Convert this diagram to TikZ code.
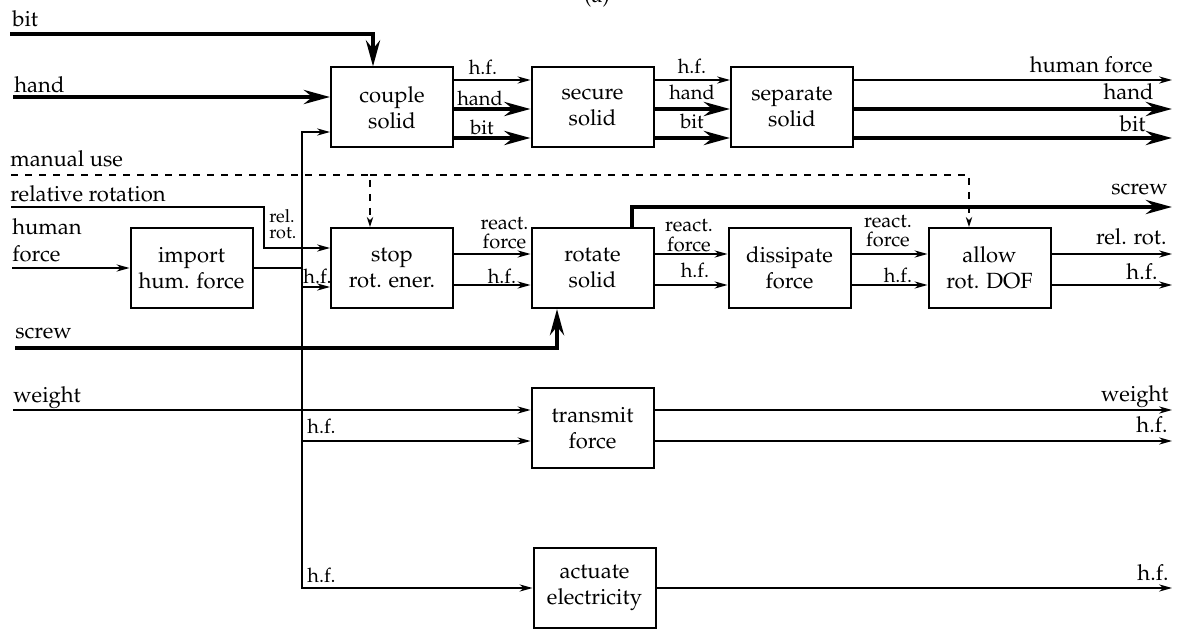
\documentclass[tikz,border=0pt]{standalone}
\usepackage[T1]{fontenc}
\usepackage{mathpazo}
\usetikzlibrary{arrows.meta,calc}
\begin{document}
\begin{tikzpicture}[x=0.5pt,y=-0.5pt,
 font=\fontsize{11}{13}\selectfont,
 box/.style={draw,line width=1pt,minimum width=61pt,minimum height=40pt,align=center,inner sep=0pt},
 flow/.style={line width=0.6pt,-{Stealth[length=6.5pt,width=3.6pt]}},
 plain/.style={line width=0.6pt},
 thickflow/.style={line width=2.2pt,-{Stealth[length=13pt,width=7pt]}},
 dashflow/.style={line width=0.6pt,dash pattern=on 3.5pt off 3.5pt,-{Stealth[length=5pt,width=3.2pt]}},
 lbl/.style={inner sep=0pt},
 slbl/.style={inner sep=0pt,font=\fontsize{10}{9.5}\selectfont,align=center},
 tlbl/.style={inner sep=0pt,font=\fontsize{9}{8.5}\selectfont,align=left}
]
\useasboundingbox (0,0) rectangle (1179,631);
\node[lbl,anchor=base] (title) at (597,3) {(a)};

% boxes
\node[box] (couple) at (392,107.5) {couple\\solid};
\node[box] (secure) at (592.5,107.5) {secure\\solid};
\node[box] (separate) at (792,107.5) {separate\\solid};
\node[box] (import) at (191.5,268) {import\\hum. force};
\node[box] (stop) at (392,268) {stop\\rot. ener.};
\node[box] (rotate) at (592.5,268) {rotate\\solid};
\node[box] (dissipate) at (789.5,268) {dissipate\\force};
\node[box] (allow) at (989.5,268) {allow\\rot. DOF};
\node[box] (transmit) at (592.5,428) {transmit\\force};
\node[box] (actuate) at (594.5,588) {actuate\\electricity};

% free ends and levels
\coordinate (bitin) at (10,34);
\coordinate (handin) at (13,97);
\coordinate (manin) at (11,175);
\coordinate (relin) at (11,207);
\coordinate (relbend) at (264,207);
\coordinate (hfin) at (12,268);
\coordinate (screwin) at (15,348);
\coordinate (weightin) at (13,410);
\coordinate (bus) at (302,268);
\coordinate (rx) at (1172,0);
\coordinate (yT1) at (0,80);
\coordinate (yT2) at (0,109);
\coordinate (yT3) at (0,138);
\coordinate (yC) at (0,132);
\coordinate (yS1) at (0,248);
\coordinate (yS2) at (0,287);
\coordinate (yM1) at (0,254);
\coordinate (yM2) at (0,285);
\coordinate (yscr) at (0,207);
\coordinate (yW) at (0,410);
\coordinate (yH) at (0,441);

% top row
\draw[thickflow] (bitin) -| ([xshift=-9.5pt]couple.north);
\draw[thickflow] (handin) -- (couple.west |- handin);
\draw[flow] (couple.east |- yT1) -- (secure.west |- yT1);
\draw[thickflow] (couple.east |- yT2) -- (secure.west |- yT2);
\draw[thickflow] (couple.east |- yT3) -- (secure.west |- yT3);
\draw[flow] (secure.east |- yT1) -- (separate.west |- yT1);
\draw[thickflow] (secure.east |- yT2) -- (separate.west |- yT2);
\draw[thickflow] (secure.east |- yT3) -- (separate.west |- yT3);
\draw[flow] (separate.east |- yT1) -- (rx |- yT1);
\draw[thickflow] (separate.east |- yT2) -- (rx |- yT2);
\draw[thickflow] (separate.east |- yT3) -- (rx |- yT3);

% dashed manual use
\draw[dashflow] (manin) -| ([xshift=-11pt]stop.north);
\draw[dashflow] ([xshift=-11pt]stop.north |- manin) -| ([xshift=-10.25pt]allow.north);

% middle row
\draw[flow] (relin) -- (relbend) |- (stop.west |- yS1);
\draw[flow] (hfin) -- (import.west);
\draw[plain] (import.east) -- (bus);
\draw[flow] (bus) |- (couple.west |- yC);
\draw[flow] (bus) |- (stop.west |- yS2);
\draw[flow] (bus) |- (transmit.west |- yH);
\draw[flow] (bus) |- (actuate.west);
\draw[flow] (stop.east |- yM1) -- (rotate.west |- yM1);
\draw[flow] (stop.east |- yM2) -- (rotate.west |- yM2);
\draw[flow] (rotate.east |- yM1) -- (dissipate.west |- yM1);
\draw[flow] (rotate.east |- yM2) -- (dissipate.west |- yM2);
\draw[flow] (dissipate.east |- yM1) -- (allow.west |- yM1);
\draw[flow] (dissipate.east |- yM2) -- (allow.west |- yM2);
\draw[flow] (allow.east |- yM1) -- (rx |- yM1);
\draw[flow] (allow.east |- yM2) -- (rx |- yM2);
\draw[thickflow] (screwin) -| ([xshift=-17.75pt]rotate.south);
\draw[thickflow] ([xshift=19.75pt]rotate.north) |- (rx |- yscr);

% bottom rows
\draw[flow] (weightin) -- (transmit.west |- weightin);
\draw[flow] (transmit.east |- yW) -- (rx |- yW);
\draw[flow] (transmit.east |- yH) -- (rx |- yH);
\draw[flow] (actuate.east) -- (rx |- actuate.east);

% input labels
\node[lbl,anchor=base west] (lbit) at (12,27) {bit};
\node[lbl,anchor=base west] (lhand) at (14,93) {hand};
\node[lbl,anchor=base west] (lman) at (10,167) {manual use};
\node[lbl,anchor=base west] (lrel) at (10,202) {relative rotation};
\node[lbl,anchor=base west,align=left,font=\fontsize{11}{13.5}\selectfont] (lhum) at (12,262) {human\\force};
\node[lbl,anchor=base west] (lscrew) at (15,338) {screw};
\node[lbl,anchor=base west] (lweight) at (13,402) {weight};

% flow labels top
\node[slbl,anchor=base] (a1) at (483,75) {h.f.};
\node[slbl,anchor=base] (a2) at (480,106) {hand};
\node[slbl,anchor=base] (a3) at (482,134) {bit};
\node[slbl,anchor=base] (b1) at (692,74) {h.f.};
\node[slbl,anchor=base] (b2) at (692,100) {hand};
\node[slbl,anchor=base] (b3) at (692,129) {bit};
\node[lbl,anchor=base east] (c1) at (1153,73) {human force};
\node[lbl,anchor=base east] (c2) at (1154,100) {hand};
\node[lbl,anchor=base east] (c3) at (1146,132) {bit};

% flow labels middle
\node[tlbl,anchor=base west] (d1) at (269,239) {rel.\\rot.};
\node[slbl,anchor=base west] (d2) at (303,283) {h.f.};
\node[slbl,anchor=base] (e1) at (504.5,249) {react.\\force};
\node[slbl,anchor=base] (e2) at (502,284) {h.f.};
\node[slbl,anchor=base] (f1) at (689,251) {react.\\force};
\node[slbl,anchor=base] (f2) at (695,278) {h.f.};
\node[slbl,anchor=base] (g1) at (888,247) {react.\\force};
\node[slbl,anchor=base] (g2) at (898,282) {h.f.};
\node[lbl,anchor=base east] (h0) at (1168,194) {screw};
\node[lbl,anchor=base east] (h1) at (1167,244) {rel. rot.};
\node[lbl,anchor=base east] (h2) at (1158,279) {h.f.};

% flow labels bottom
\node[slbl,anchor=base west] (i1) at (307,433) {h.f.};
\node[slbl,anchor=base west] (i2) at (307,582) {h.f.};
\node[lbl,anchor=base east] (j1) at (1169,401) {weight};
\node[lbl,anchor=base east] (j2) at (1168,432) {h.f.};
\node[lbl,anchor=base east] (j3) at (1169,580) {h.f.};
\end{tikzpicture}
\end{document}
